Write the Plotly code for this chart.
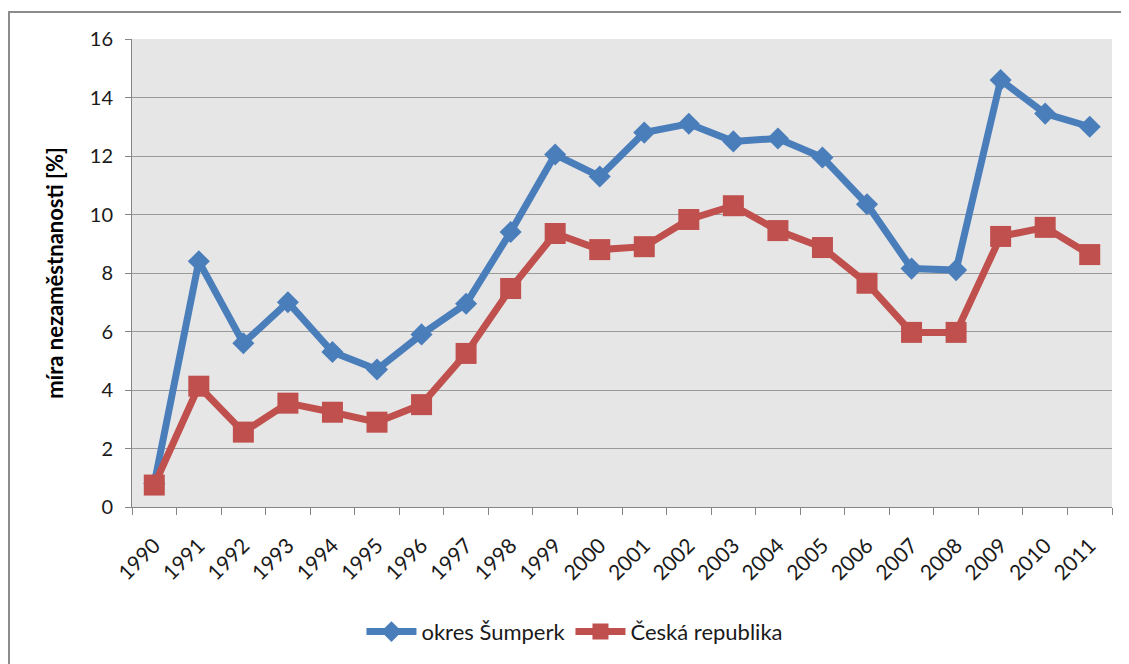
import plotly.graph_objects as go

years = [str(y) for y in range(1990, 2012)]
sumperk = [0.8, 8.4, 5.6, 7.0, 5.3, 4.7, 5.9, 6.95, 9.4, 12.05, 11.3, 12.8,
           13.1, 12.5, 12.6, 11.95, 10.35, 8.15, 8.1, 14.6, 13.45, 13.0]
cr = [0.75, 4.13, 2.56, 3.55, 3.24, 2.9, 3.5, 5.25, 7.47, 9.35, 8.8, 8.9,
      9.83, 10.3, 9.45, 8.87, 7.65, 5.97, 5.97, 9.25, 9.56, 8.63]
y_ticks = [0, 2, 4, 6, 8, 10, 12, 14, 16]

FONT = "Lato"

fig = go.Figure()
fig.add_trace(go.Scatter(
    x=years, y=sumperk, name="okres Šumperk", mode="lines+markers",
    line=dict(color="#4a7ebb", width=7),
    marker=dict(symbol="diamond", size=17, color="#4a7ebb"),
))
fig.add_trace(go.Scatter(
    x=years, y=cr, name="Česká republika", mode="lines+markers",
    line=dict(color="#c0504d", width=7),
    marker=dict(symbol="square", size=21, color="#c0504d"),
))

# page body adds 8px margin, so the figure is 8px smaller and shifted
fig.update_layout(
    width=1121, height=656,
    margin=dict(l=124, r=17, t=31, b=156),
    paper_bgcolor="white",
    plot_bgcolor="#e6e6e6",
    font=dict(family=FONT, size=16, color="#1a1a1a"),
    showlegend=True,
    legend=dict(orientation="h", x=0.452, xanchor="center", y=-0.264, yanchor="middle",
                font=dict(family=FONT, size=22, color="#1a1a1a"),
                itemwidth=50, tracegroupgap=0),
    xaxis=dict(
        type="category", tickangle=-45, tickson="boundaries",
        ticks="outside", ticklen=7, tickcolor="#868686",
        showline=True, linecolor="#868686", linewidth=1,
        showgrid=False, tickfont=dict(family=FONT, size=21, color="#1a1a1a"),
        ticklabelstandoff=17,
        range=[-0.5, 21.5],
    ),
    yaxis=dict(
        range=[0, 16], tickvals=y_ticks, ticks="outside", ticklen=6,
        tickcolor="#868686", showline=True, linecolor="#868686", linewidth=1,
        gridcolor="#9a9a9a", gridwidth=1, zeroline=False,
        tickfont=dict(family=FONT, size=20, color="#1a1a1a"),
        ticklabelstandoff=8,
        title=dict(text="<b>míra nezaměstnanosti [%]</b>", standoff=20,
                   font=dict(family=FONT, size=22, color="#000000")),
    ),
    shapes=[dict(type="rect", xref="paper", yref="paper",
                 x0=(9 - 132) / 980, x1=(1140 - 132) / 980,
                 y0=(508 - 680) / 469, y1=(508 - 12) / 469,
                 line=dict(color="#8c8c8c", width=2), fillcolor="rgba(0,0,0,0)",
                 layer="below")],
)

fig.write_html("out.html")
